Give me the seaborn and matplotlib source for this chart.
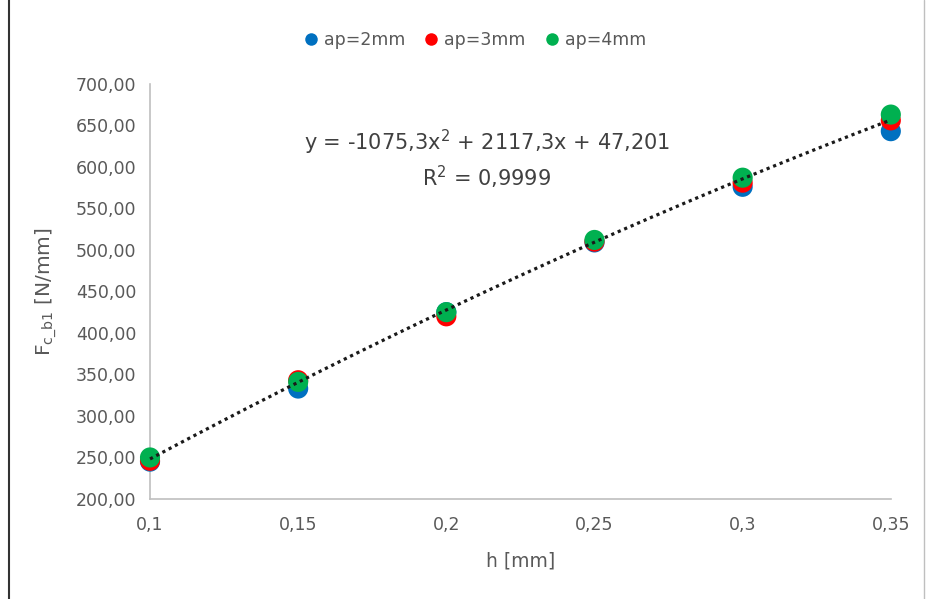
import numpy as np
import pandas as pd
import matplotlib
matplotlib.use("Agg")
import matplotlib.pyplot as plt
import seaborn as sns
from matplotlib.lines import Line2D

h_values = [0.10, 0.15, 0.20, 0.25, 0.30, 0.35]
fc_ap2 = [245, 333, 425, 509, 576, 643]
fc_ap3 = [246, 343, 420, 510, 581, 656]
fc_ap4 = [250, 341, 425, 512, 587, 663]
series_labels = ["ap=2mm", "ap=3mm", "ap=4mm"]
series_colors = ["#0070C0", "#FF0000", "#00B050"]
trend_coefs = [-1075.3, 2117.3, 47.201]
eq_text = "y = -1075,3x$^{2}$ + 2117,3x + 47,201"
r2_text = "R$^{2}$ = 0,9999"
y_ticks = [200, 250, 300, 350, 400, 450, 500, 550, 600, 650, 700]
x_ticks = [0.1, 0.15, 0.2, 0.25, 0.3, 0.35]
x_tick_labels = ["0,1", "0,15", "0,2", "0,25", "0,3", "0,35"]

sns.set_style("white")
plt.rcParams["font.family"] = ["DejaVu Sans"]
plt.rcParams["mathtext.fontset"] = "dejavusans"

df = pd.DataFrame({
    "h": h_values * 3,
    "Fc": fc_ap2 + fc_ap3 + fc_ap4,
    "series": [series_labels[0]] * 6 + [series_labels[1]] * 6 + [series_labels[2]] * 6,
})

fig = plt.figure(figsize=(9.26, 5.99), dpi=100)
ax = fig.add_axes([0.162, 0.167, 0.8, 0.693])

sns.scatterplot(data=df, x="h", y="Fc", hue="series", palette=series_colors,
                hue_order=series_labels, s=210, edgecolor="none", ax=ax,
                legend=False, zorder=3, clip_on=False)

xs = np.linspace(min(h_values), max(h_values), 200)
ys = np.polyval(trend_coefs, xs)
ax.plot(xs, ys, color="#1a1a1a", lw=2.3, linestyle=(0, (1, 1.2)), zorder=4, clip_on=False)

ax.set_xlim(0.1, 0.35)
ax.set_ylim(200, 700)
ax.set_yticks(y_ticks)
ax.set_yticklabels([f"{v:.2f}".replace(".", ",") for v in y_ticks])
ax.set_xticks(x_ticks)
ax.set_xticklabels(x_tick_labels)
ax.tick_params(axis="both", labelsize=12.5, colors="#595959", length=0)
ax.tick_params(axis="y", pad=10)
ax.tick_params(axis="x", pad=12)
for sp in ["top", "right"]:
    ax.spines[sp].set_visible(False)
for sp in ["left", "bottom"]:
    ax.spines[sp].set_color("#bfbfbf")
    ax.spines[sp].set_linewidth(1.2)

ax.set_xlabel("h [mm]", fontsize=13.5, color="#595959", labelpad=13)
ax.set_ylabel(r"F$_{\mathregular{c\_b1}}$ [N/mm]", fontsize=14.5, color="#595959", labelpad=12)

ax.text(0.2137, 630, eq_text, ha="center", va="center", fontsize=15, color="#404040")
ax.text(0.2137, 587, r2_text, ha="center", va="center", fontsize=15, color="#404040")

handles = [Line2D([], [], marker="o", linestyle="none", markersize=9,
                  markerfacecolor=c, markeredgecolor="none") for c in series_colors]
fig.legend(handles, series_labels, loc="center", bbox_to_anchor=(0.512, 0.933),
           ncol=3, frameon=False, fontsize=12.5, handletextpad=0.25,
           handlelength=1.0, columnspacing=1.0, labelcolor="#595959")

fig.add_artist(Line2D([0.0095, 0.0095], [0, 1], transform=fig.transFigure,
                      color="#333333", lw=1.5))
fig.add_artist(Line2D([0.998, 0.998], [0, 1], transform=fig.transFigure,
                      color="#bfbfbf", lw=1.0))

fig.savefig("out.png", dpi=100, facecolor="white")
